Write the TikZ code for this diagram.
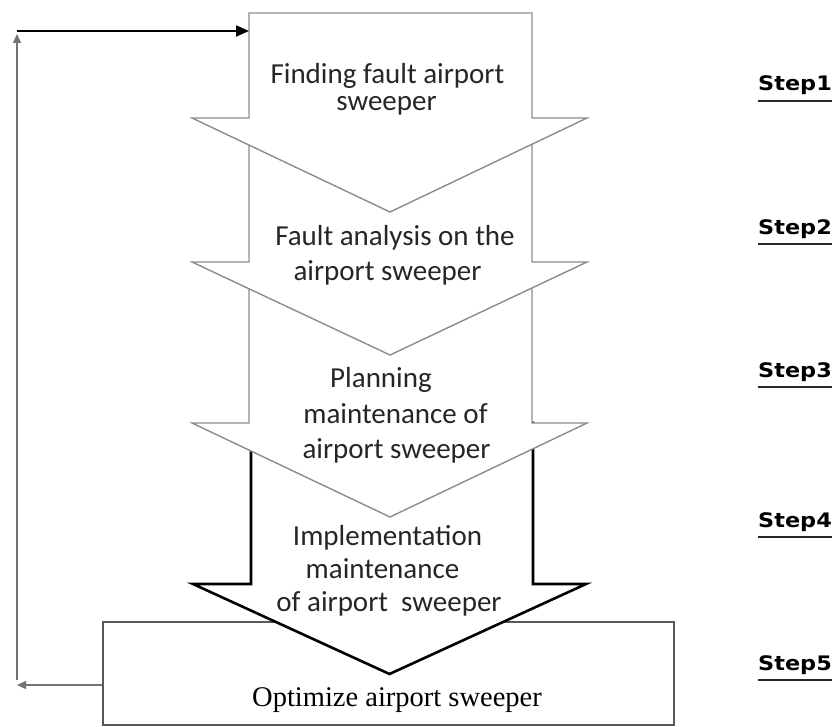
\documentclass[tikz,border=0pt]{standalone}
\usepackage{fontspec}
\setmainfont{Carlito}
\newfontfamily\stepfont{DejaVu Sans}
\newfontfamily\optfont{Liberation Serif}
\usetikzlibrary{arrows.meta}
\begin{document}
\begin{tikzpicture}[x=1pt,y=-1pt,
  flow/.style={draw=black!45, line width=1.4pt, fill=white, line join=miter},
  flowdark/.style={draw=black, line width=2.6pt, fill=white, line join=miter},
  txt/.style={anchor=base, inner sep=0pt, font=\fontsize{29}{34}\selectfont, text=black!85},
  opttxt/.style={anchor=base, inner sep=0pt, font=\optfont\fontsize{28.5}{34}\selectfont},
  optbox/.style={draw=black!65, line width=1.6pt, minimum width=571pt, minimum height=103pt, inner sep=0pt},
  steplabel/.style={anchor=base west, inner sep=0pt, font=\stepfont\bfseries\fontsize{20}{22}\selectfont},
  stepline/.style={line width=2.2pt, black!85},
  fbgray/.style={draw=black!55, line width=1.3pt, -{Triangle[length=9pt,width=8pt]}},
  fbblack/.style={draw=black, line width=1.8pt, -{Triangle[length=13pt,width=11pt]}},
]
\useasboundingbox (0,0) rectangle (834,727);
\fill[white] (0,0) rectangle (834,727);

% optimise box
\node[optbox] (opt) at (388.5,673.5) {};

% arrows, bottom first
\draw[flowdark] (251,423) -- (533,423) -- (533,584) -- (586,584) -- (389.5,674) -- (193,584) -- (251,584) -- cycle;
\draw[flow] (249,262) -- (532,262) -- (532,423) -- (587,423) -- (390,517) -- (192,423) -- (249,423) -- cycle;
\draw[flow] (249,118) -- (532,118) -- (532,262) -- (587,262) -- (390,355) -- (192,262) -- (249,262) -- cycle;
\draw[flow] (249,13) -- (532,13) -- (532,118) -- (587,118) -- (390,212) -- (192,118) -- (249,118) -- cycle;

% connector coordinates
\coordinate (a1w) at (249,31);
\coordinate (fbL) at (17,685);
\coordinate (fbB) at (17,680);
\coordinate (fbT) at (17,34);
\coordinate (fbC) at (17,31);

% feedback loop
\draw[fbgray] (opt.west |- fbL) -- (fbL);
\draw[fbgray] (fbB) -- (fbT);
\draw[fbblack] (fbC) -- (a1w);

% texts
\node[txt] (t1a) at (387.5,84) {Finding fault airport};
\node[txt] (t1b) at (386.5,111) {sweeper};
\node[txt] (t2a) at (395,245) {Fault analysis on the};
\node[txt] (t2b) at (387.5,280) {airport sweeper};
\node[txt] (t3a) at (381,387) {Planning};
\node[txt] (t3b) at (395.5,423) {maintenance of};
\node[txt] (t3c) at (396.5,458) {airport sweeper};
\node[txt] (t4a) at (387.5,545) {Implementation};
\node[txt] (t4b) at (382.5,578) {maintenance};
\node[txt] (t4c) at (389,611) {of airport\ \ sweeper};
\node[opttxt] (t5) at (397,706) {Optimize airport sweeper};

% step labels
\foreach \i/\yy in {1/90.7,2/234,3/377,4/527,5/670}{
  \node[steplabel] (s\i) at (758,\yy) {\scalebox{1.12}[1]{Step\i}};
  \draw[stepline] ([yshift=-10pt]s\i.base west) -- ([yshift=-10pt]s\i.base east);
}
\end{tikzpicture}
\end{document}
